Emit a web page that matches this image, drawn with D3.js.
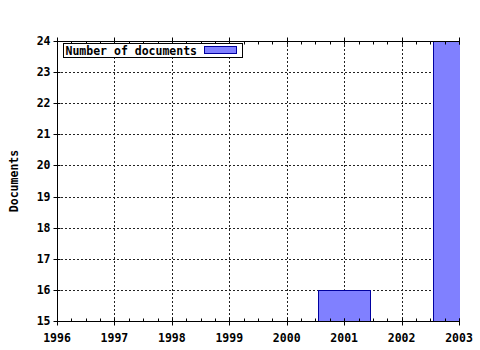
<!DOCTYPE html>
<html>
<head>
<meta charset="utf-8">
<script src="https://cdn.jsdelivr.net/npm/d3@7"></script>
<style>
  body { margin: 0; background: #fff; }
  text { font-family: "DejaVu Sans Mono", monospace; font-weight: bold; font-size: 11.5px; fill: #000; }
</style>
</head>
<body>
<div id="chart"></div>
<script>
var yearTicks = [1996, 1997, 1998, 1999, 2000, 2001, 2002, 2003];
var docTicks = [15, 16, 17, 18, 19, 20, 21, 22, 23, 24];
var barYears = [2001, 2003];
var barDocs = [16, 24];
var seriesName = "Number of documents";
var yTitle = "Documents";

var width = 480, height = 350;
var margin = {top: 41, right: 21, bottom: 29, left: 57};
var w = width - margin.left - margin.right;
var h = height - margin.top - margin.bottom;

var svg = d3.select("#chart").append("svg")
    .attr("width", width)
    .attr("height", height);

var x = d3.scaleLinear().domain([1996, 2003]).range([0, w]);
var y = d3.scaleLinear().domain([15, 24]).range([h, 0]);

svg.append("defs").append("clipPath").attr("id", "plotClip")
    .append("rect").attr("width", w + 1).attr("height", h + 1).attr("y", -1);

var g = svg.append("g").attr("transform", "translate(" + margin.left + "," + margin.top + ")");

// grid
g.append("g").selectAll("line").data(yearTicks.slice(1, -1))
    .enter().append("line")
    .attr("x1", d => Math.round(x(d)) + 0.5).attr("x2", d => Math.round(x(d)) + 0.5)
    .attr("y1", 0).attr("y2", h)
    .attr("stroke", "#222").attr("stroke-dasharray", "2,2");

g.append("g").selectAll("line").data(docTicks.slice(1))
    .enter().append("line")
    .attr("y1", d => Math.round(y(d)) + 0.5).attr("y2", d => Math.round(y(d)) + 0.5)
    .attr("x1", 0).attr("x2", w)
    .attr("stroke", "#222").attr("stroke-dasharray", "2,2");

// bars
var barW = x(1996.9) - x(1996);
g.append("g").attr("clip-path", "url(#plotClip)")
    .selectAll("rect").data(barYears)
    .enter().append("rect")
    .attr("x", (d) => Math.round(x(d) - barW / 2) + 0.5)
    .attr("y", (d, i) => Math.round(y(barDocs[i])) + 0.5)
    .attr("width", Math.round(barW))
    .attr("height", (d, i) => Math.round(y(15)) - Math.round(y(barDocs[i])))
    .attr("fill", "#8080ff")
    .attr("stroke", "#0000a0");

// axes
var minor = d3.range(1996, 2003.001, 0.25);

var xAxis = g.append("g").attr("transform", "translate(0," + (h + 0.5) + ")");
xAxis.append("line").attr("x1", 0).attr("x2", w).attr("stroke", "#000");
xAxis.selectAll(".minor").data(minor).enter().append("line")
    .attr("x1", d => Math.round(x(d)) + 0.5).attr("x2", d => Math.round(x(d)) + 0.5)
    .attr("y1", -3).attr("y2", 0).attr("stroke", "#000");
xAxis.selectAll(".major").data(yearTicks).enter().append("line")
    .attr("x1", d => Math.round(x(d)) + 0.5).attr("x2", d => Math.round(x(d)) + 0.5)
    .attr("y1", -3).attr("y2", 4).attr("stroke", "#000");
xAxis.selectAll("text").data(yearTicks).enter().append("text")
    .attr("x", d => x(d)).attr("y", 20)
    .attr("text-anchor", "middle")
    .text(d => d);

var topAxis = g.append("g").attr("transform", "translate(0,0.5)");
topAxis.append("line").attr("x1", 0).attr("x2", w).attr("stroke", "#000");
topAxis.selectAll(".minor").data(minor).enter().append("line")
    .attr("x1", d => Math.round(x(d)) + 0.5).attr("x2", d => Math.round(x(d)) + 0.5)
    .attr("y1", 0).attr("y2", 3).attr("stroke", "#000");
topAxis.selectAll(".major").data(yearTicks).enter().append("line")
    .attr("x1", d => Math.round(x(d)) + 0.5).attr("x2", d => Math.round(x(d)) + 0.5)
    .attr("y1", -4).attr("y2", 3).attr("stroke", "#000");

var yAxis = g.append("g").attr("transform", "translate(0.5,0)");
yAxis.append("line").attr("y1", 0).attr("y2", h).attr("stroke", "#000");
yAxis.selectAll(".major").data(docTicks).enter().append("line")
    .attr("y1", d => Math.round(y(d)) + 0.5).attr("y2", d => Math.round(y(d)) + 0.5)
    .attr("x1", -4).attr("x2", 3).attr("stroke", "#000");
yAxis.selectAll("text").data(docTicks).enter().append("text")
    .attr("x", -7).attr("y", d => y(d) + 4)
    .attr("text-anchor", "end")
    .text(d => d);

// y title
svg.append("text")
    .attr("transform", "translate(18," + (margin.top + h / 2) + ") rotate(-90)")
    .attr("text-anchor", "middle")
    .text(yTitle);

// legend
var lg = svg.append("g").attr("transform", "translate(63.5,43.5)");
lg.append("rect").attr("width", 179).attr("height", 14)
    .attr("fill", "#fff").attr("stroke", "#000");
lg.append("text").attr("x", 2).attr("y", 11).text(seriesName);
lg.append("rect").attr("x", 141).attr("y", 3).attr("width", 32).attr("height", 7)
    .attr("fill", "#8080ff").attr("stroke", "#0000a0");
</script>
</body>
</html>
